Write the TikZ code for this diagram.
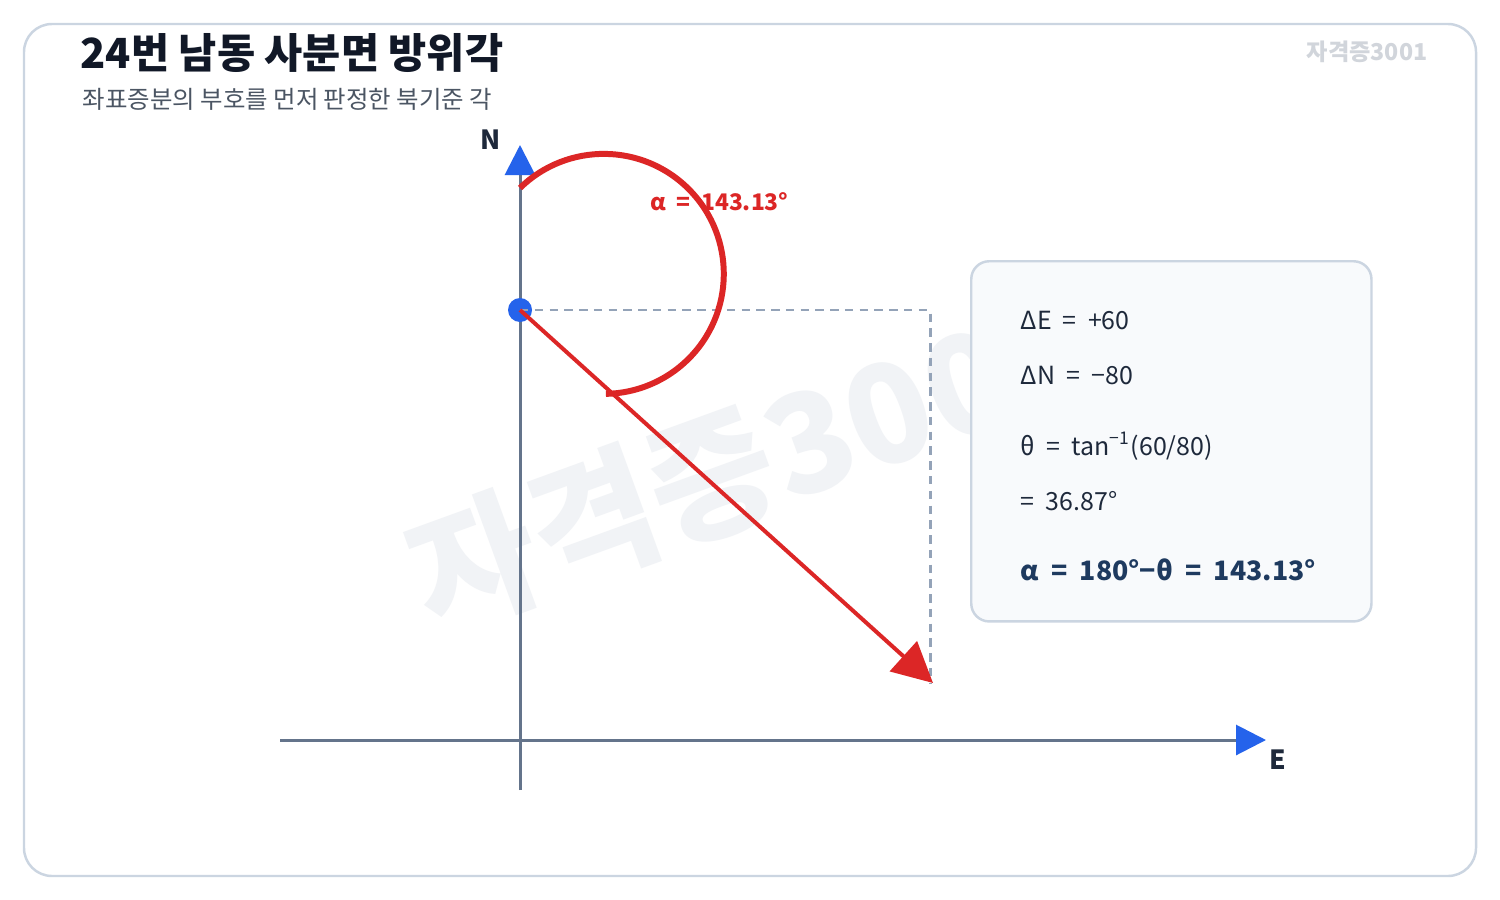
\documentclass[tikz,border=0pt]{standalone}
\usepackage{fontspec}
\setmainfont{Noto Sans CJK KR}
\usetikzlibrary{arrows.meta}
\definecolor{framegray}{HTML}{CBD5E1}
\definecolor{titleink}{HTML}{111827}
\definecolor{subink}{HTML}{4B5563}
\definecolor{axisgray}{HTML}{64748B}
\definecolor{tipblue}{HTML}{2563EB}
\definecolor{vecred}{HTML}{DC2626}
\definecolor{dashgray}{HTML}{94A3B8}
\definecolor{boxfill}{HTML}{F8FAFC}
\definecolor{labelink}{HTML}{1E293B}
\definecolor{resultink}{HTML}{1E3A5F}
\definecolor{markgray}{HTML}{F1F3F6}
\definecolor{taggray}{HTML}{D1D5DB}

\begin{document}
\begin{tikzpicture}[x=0.01cm, y=-0.01cm]
        \tikzstyle{axe}=[draw=axisgray, line width=0.85pt, -{Triangle[length=3mm, width=3mm, color=tipblue]}];
        \tikzstyle{ligne}=[anchor=west, inner sep=0, text=labelink, font=\fontsize{7.1}{8}\selectfont];
        \tikzstyle{axelabel}=[inner sep=0, text=labelink, font=\bfseries\fontsize{7.5}{9}\selectfont];

        \useasboundingbox (0,0) rectangle (1500,900);
        \draw[framegray, line width=0.7pt, fill=white, rounded corners=2.8mm] (24,24) rectangle (1476,876);

        \node[anchor=west, inner sep=0, text=titleink, font=\bfseries\fontsize{11.8}{14}\selectfont] (titre) at (80,53) {24번 남동 사분면 방위각};
        \node[anchor=west, inner sep=0, text=subink, font=\fontsize{6.95}{8}\selectfont] (soustitre) at (82,99) {좌표증분의 부호를 먼저 판정한 북기준 각};
        \node[anchor=east, inner sep=0, text=taggray, font=\bfseries\fontsize{6.6}{8}\selectfont] (tag) at (1428,52) {자격증3001};
        \node[rotate=20, inner sep=0, text=markgray, font=\bfseries\fontsize{39}{42}\selectfont] (filigrane) at (750,462) {자격증3001};

        \node[draw=framegray, fill=boxfill, line width=0.7pt, rounded corners=1.8mm, anchor=north west,
              inner sep=0, minimum width=4cm, minimum height=3.6cm] (info) at (970,260) {};
        \foreach \y/\t [count=\i] in {321/{ΔE~~=~~+60}, 376/{ΔN~~=~~−80}, 446/{θ~~=~~tan\textsuperscript{−1}(60/80)}, 501/{=~~36.87°}}{
          \node[ligne] (L\i) at (1020,\y) {\t};
        }
        \node[ligne, text=resultink, font=\bfseries\fontsize{7.6}{9}\selectfont] (L5) at (1020,570) {α~~=~~180°−θ~~=~~143.13°};

        \coordinate (O) at (520,310);
        \coordinate (T) at (933,683);
        \coordinate (C) at (930,310);
        \draw[axe] (520,790) -- (520,145);
        \draw[axe] (280,740) -- (1266,740);
        \node[axelabel] (N) at (491,140) {N};
        \node[axelabel] (E) at (1278,760) {E};

        \fill[tipblue] (O) circle[radius=12];
        \draw[dashgray, line width=0.85pt, dash pattern=on 2.4pt off 1.8pt] (O) -- (C) -- (930,683);
        \draw[vecred, line width=1.13pt, -{Triangle[length=4mm, width=4mm]}] (O) -- (T);
        \draw[vecred, line width=1.7pt] (520,188) arc[start angle=225.7, end angle=449, radius=120];
        \node[anchor=west, inner sep=0, text=vecred, font=\bfseries\fontsize{6.5}{8}\selectfont] (alpha) at (650,202) {α~~=~~143.13°};
    \end{tikzpicture}
\end{document}
